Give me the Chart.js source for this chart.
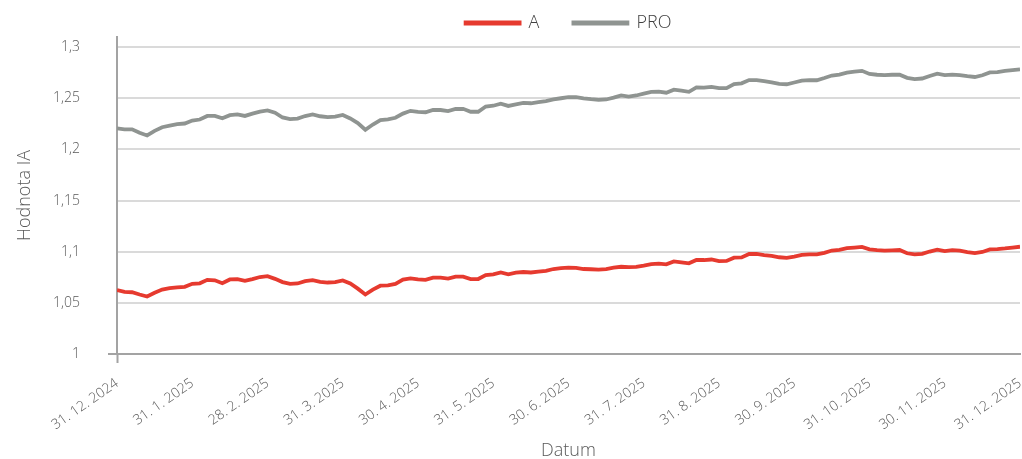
<!DOCTYPE html>
<html lang="cs">
<head>
    <meta charset="UTF-8">
    <title>Hodnota IA</title>
    <script src="https://cdn.jsdelivr.net/npm/chart.js"></script>
    <style>
        body { margin: 0; background: #fff; }
        canvas { display: block; }
    </style>
</head>
<body>
<canvas id="graf" width="1022" height="459"></canvas>

<script>
    // popisky osy X (konce měsíců)
    const popiskyX = ["31. 12. 2024", "31. 1. 2025", "28. 2. 2025", "31. 3. 2025", "30. 4. 2025",
        "31. 5. 2025", "30. 6. 2025", "31. 7. 2025", "31. 8. 2025", "30. 9. 2025",
        "31. 10. 2025", "30. 11. 2025", "31. 12. 2025"];

    // hodnoty na ose Y
    const tickyY = [1, 1.05, 1.1, 1.15, 1.2, 1.25, 1.3];

    // hodnoty IA – řada A
    const hodnotyA = [
        1.0626, 1.0608, 1.0604, 1.0582, 1.0562, 1.0599, 1.0630, 1.0644, 1.0652, 1.0657,
        1.0686, 1.0691, 1.0725, 1.0721, 1.0692, 1.0729, 1.0733, 1.0715, 1.0733, 1.0753,
        1.0761, 1.0735, 1.0703, 1.0685, 1.0690, 1.0713, 1.0722, 1.0706, 1.0699, 1.0702,
        1.0719, 1.0689, 1.0639, 1.0582, 1.0630, 1.0668, 1.0672, 1.0685, 1.0727, 1.0740,
        1.0729, 1.0725, 1.0746, 1.0746, 1.0738, 1.0756, 1.0756, 1.0733, 1.0733, 1.0772,
        1.0779, 1.0797, 1.0780, 1.0796, 1.0802, 1.0797, 1.0805, 1.0814, 1.0831, 1.0839,
        1.0845, 1.0843, 1.0831, 1.0829, 1.0825, 1.0831, 1.0844, 1.0853, 1.0849, 1.0851,
        1.0864, 1.0879, 1.0884, 1.0877, 1.0905, 1.0897, 1.0887, 1.0919, 1.0919, 1.0924,
        1.0908, 1.0910, 1.0942, 1.0945, 1.0978, 1.0978, 1.0967, 1.0960, 1.0946, 1.0940,
        1.0952, 1.0969, 1.0974, 1.0974, 1.0989, 1.1012, 1.1019, 1.1035, 1.1041, 1.1047,
        1.1024, 1.1016, 1.1010, 1.1013, 1.1017, 1.0985, 1.0974, 1.0979, 1.1002, 1.1021,
        1.1006, 1.1015, 1.1010, 1.0996, 1.0987, 1.0998, 1.1023, 1.1025, 1.1032, 1.1041,
        1.1049
    ];

    // hodnoty IA – řada PRO
    const hodnotyPRO = [
        1.2206, 1.2197, 1.2197, 1.2163, 1.2137, 1.2182, 1.2218, 1.2233, 1.2247, 1.2254,
        1.2283, 1.2293, 1.2328, 1.2329, 1.2305, 1.2336, 1.2343, 1.2328, 1.2350, 1.2370,
        1.2382, 1.2360, 1.2313, 1.2297, 1.2302, 1.2327, 1.2342, 1.2325, 1.2317, 1.2321,
        1.2338, 1.2303, 1.2258, 1.2193, 1.2244, 1.2288, 1.2294, 1.2310, 1.2351, 1.2378,
        1.2368, 1.2364, 1.2386, 1.2386, 1.2376, 1.2396, 1.2398, 1.2369, 1.2369, 1.2420,
        1.2428, 1.2448, 1.2426, 1.2440, 1.2455, 1.2452, 1.2462, 1.2473, 1.2489, 1.2501,
        1.2511, 1.2512, 1.2500, 1.2492, 1.2486, 1.2489, 1.2507, 1.2528, 1.2518, 1.2528,
        1.2547, 1.2563, 1.2566, 1.2555, 1.2585, 1.2575, 1.2564, 1.2607, 1.2605, 1.2613,
        1.2600, 1.2600, 1.2640, 1.2647, 1.2679, 1.2679, 1.2668, 1.2657, 1.2641, 1.2638,
        1.2655, 1.2673, 1.2679, 1.2677, 1.2699, 1.2723, 1.2733, 1.2752, 1.2761, 1.2769,
        1.2739, 1.2731, 1.2727, 1.2731, 1.2731, 1.2701, 1.2689, 1.2694, 1.2719, 1.2741,
        1.2728, 1.2732, 1.2727, 1.2717, 1.2709, 1.2726, 1.2754, 1.2756, 1.2768, 1.2776,
        1.2783
    ];

    const krokPopisku = (hodnotyA.length - 1) / (popiskyX.length - 1);

    const pismo = "'Open Sans', 'Noto Sans', sans-serif";
    const barvaTextu = '#595959';
    const barvaOsy = '#a3a3a3';

    function naBody(rada) {
        return rada.map((v, i) => ({ x: i, y: v }));
    }

    const ctx = document.getElementById('graf').getContext('2d');
    new Chart(ctx, {
        type: 'line',
        data: {
            datasets: [
                {
                    label: 'A',
                    data: naBody(hodnotyA),
                    borderColor: '#e63a2f',
                    backgroundColor: '#e63a2f',
                    borderWidth: 3.8,
                    pointRadius: 0,
                    tension: 0
                },
                {
                    label: 'PRO',
                    data: naBody(hodnotyPRO),
                    borderColor: '#8f9491',
                    backgroundColor: '#8f9491',
                    borderWidth: 3.8,
                    pointRadius: 0,
                    tension: 0
                }
            ]
        },
        options: {
            responsive: false,
            animation: false,
            // horní odsazení je záporné, aby legenda s velkým rozestupem seděla nahoře
            layout: { padding: { top: -20, right: 2, left: 0, bottom: 0 } },
            plugins: {
                tooltip: { enabled: false },
                legend: {
                    position: 'top',
                    fullSize: false,
                    maxHeight: 57,
                    labels: {
                        boxWidth: 54,
                        boxHeight: 1,
                        padding: 34,
                        color: '#404040',
                        font: { family: pismo, size: 18, weight: '300' }
                    }
                }
            },
            scales: {
                x: {
                    type: 'linear',
                    min: 0,
                    max: hodnotyA.length - 1,
                    afterFit: s => { s.height = 105; s.paddingLeft = 0; s.paddingRight = 0; },
                    ticks: {
                        stepSize: krokPopisku,
                        autoSkip: false,
                        minRotation: 35,
                        maxRotation: 35,
                        padding: 12,
                        color: barvaTextu,
                        font: { family: pismo, size: 14, weight: '300' },
                        callback: v => popiskyX[Math.round(v / krokPopisku)]
                    },
                    grid: {
                        color: 'transparent',
                        tickLength: 9,
                        tickWidth: 2,
                        tickColor: c => (c.tick && c.tick.value === 0) ? barvaOsy : 'transparent'
                    },
                    border: { color: barvaOsy, width: 2 },
                    title: {
                        display: true,
                        text: 'Datum',
                        color: barvaTextu,
                        font: { family: pismo, size: 18, weight: '300', lineHeight: 1 },
                        padding: { top: 0, bottom: -1 }
                    }
                },
                y: {
                    min: 1,
                    max: 1.31,
                    afterFit: s => { s.width = 117; },
                    afterBuildTicks: s => { s.ticks = tickyY.map(v => ({ value: v })); },
                    ticks: {
                        padding: 28,
                        color: barvaTextu,
                        font: { family: pismo, size: 14, weight: '300' },
                        callback: v => (+v.toFixed(2)).toString().replace('.', ',')
                    },
                    grid: {
                        color: '#dadada',
                        lineWidth: 2,
                        tickLength: 9,
                        tickWidth: 2,
                        tickColor: c => (c.tick && c.tick.value === 1) ? barvaOsy : 'transparent'
                    },
                    border: { color: barvaOsy, width: 2 },
                    title: {
                        display: true,
                        text: 'Hodnota IA',
                        color: barvaTextu,
                        font: { family: pismo, size: 18, weight: '300' },
                        padding: { top: 14, bottom: 0 }
                    }
                }
            }
        }
    });
</script>
</body>
</html>
